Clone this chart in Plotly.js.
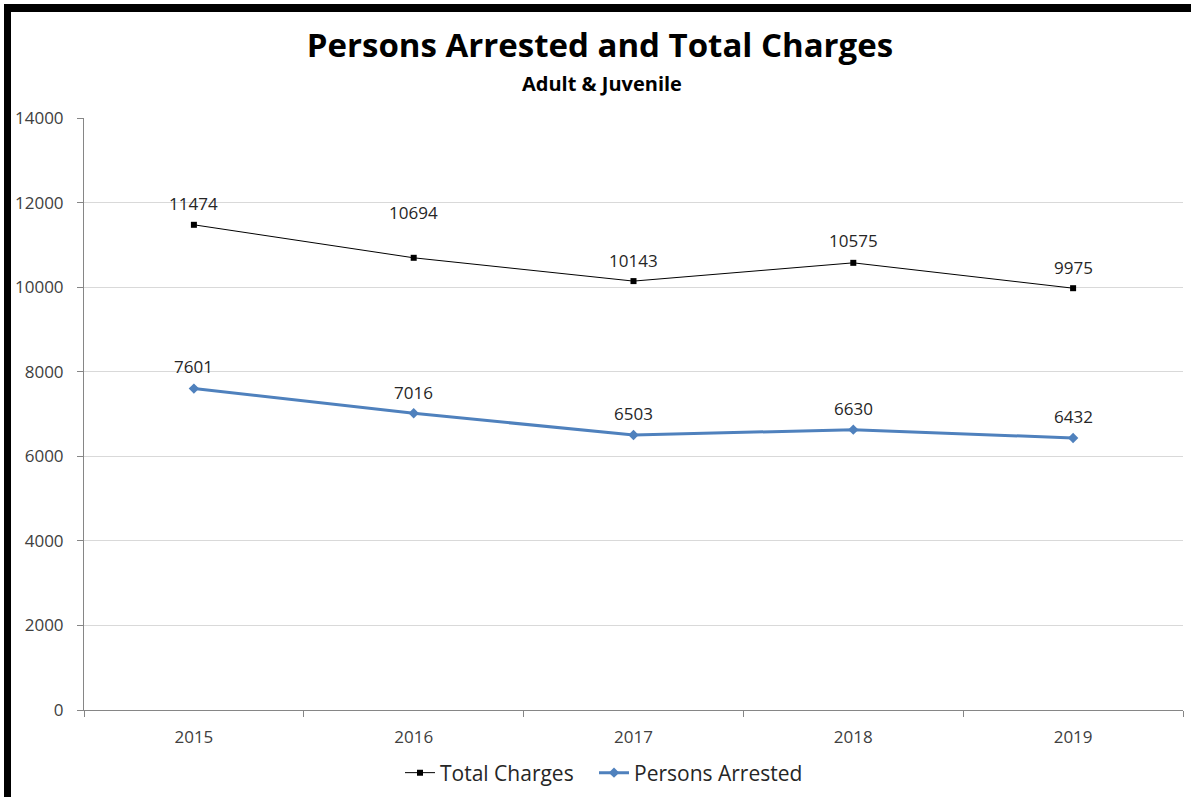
<!DOCTYPE html>
<html>
<head>
<meta charset="utf-8">
<script src="https://cdn.plot.ly/plotly-3.0.1.min.js"></script>
<style>
html,body{margin:0;padding:0;background:#fff;}
#wrap{position:relative;width:1191px;height:797px;overflow:hidden;}
#chart{position:absolute;left:0;top:0;width:1191px;height:797px;}
#bt{position:absolute;left:4px;top:4px;width:1187px;height:8px;background:#000;}
#bl{position:absolute;left:4px;top:4px;width:7px;height:793px;background:#000;}
</style>
</head>
<body>
<div id="wrap"><div id="chart"></div><div id="bt"></div><div id="bl"></div></div>
<script>
const years = ["2015", "2016", "2017", "2018", "2019"];
const totalCharges = [11474, 10694, 10143, 10575, 9975];
const personsArrested = [7601, 7016, 6503, 6630, 6432];
const chargesLabelShift = [21, 45, 21, 22, 21];
const arrestedLabelShift = [22, 21, 22, 21, 22];
const yTicks = [0, 2000, 4000, 6000, 8000, 10000, 12000, 14000];

const FONT = "Open Sans, DejaVu Sans, sans-serif";

const traces = [
  {
    x: years, y: totalCharges, name: "Total Charges", type: "scatter", mode: "lines+markers",
    line: {color: "#000000", width: 1},
    marker: {symbol: "square", size: 6, color: "#000000"},
    legend: "legend"
  },
  {
    x: years, y: personsArrested, name: "Persons Arrested", type: "scatter", mode: "lines+markers",
    line: {color: "#4F81BD", width: 3},
    marker: {symbol: "diamond", size: 8, color: "#4F81BD"},
    legend: "legend2"
  }
];

const annotations = [];
years.forEach((yr, i) => {
  annotations.push({x: i, y: totalCharges[i], xref: "x", yref: "y", text: String(totalCharges[i]),
    showarrow: false, yshift: chargesLabelShift[i], font: {family: FONT, size: 17, color: "#262626"}});
  annotations.push({x: i, y: personsArrested[i], xref: "x", yref: "y", text: String(personsArrested[i]),
    showarrow: false, yshift: arrestedLabelShift[i], font: {family: FONT, size: 17, color: "#262626"}});
});
annotations.push({x: (602 - 84) / 1099, y: (710 - 84) / 592, xref: "paper", yref: "paper", text: "<b>Adult &amp; Juvenile</b>",
  showarrow: false, xanchor: "center", yanchor: "middle", font: {family: FONT, size: 20, color: "#000"}});

const legendStyle = {orientation: "h", xanchor: "left", y: -63/592, yanchor: "middle",
  font: {family: FONT, size: 21, color: "#262626"}, itemwidth: 30, bgcolor: "rgba(0,0,0,0)"};

const layout = {
  width: 1191, height: 797,
  margin: {l: 84, r: 8, t: 118, b: 87, autoexpand: false},
  paper_bgcolor: "#ffffff", plot_bgcolor: "#ffffff",
  font: {family: FONT, size: 16, color: "#404040"},
  title: {text: "<b>Persons Arrested and Total Charges</b>", x: 600 / 1191, xanchor: "center",
    y: 1 - 45/797, yanchor: "middle", yref: "container",
    font: {family: FONT, size: 33, color: "#000"}},
  xaxis: {type: "category", range: [-0.5, years.length - 0.5], showgrid: false, showline: true, linecolor: "#868686", linewidth: 1,
    ticks: "outside", tickson: "boundaries", ticklen: 6, tickcolor: "#868686", tickangle: 0,
    ticklabelstandoff: 12, automargin: false,
    tickfont: {family: FONT, size: 17, color: "#404040"}, fixedrange: true},
  yaxis: {range: [0, 14000], tickvals: yTicks, tickformat: "d", showgrid: true, gridcolor: "#d9d9d9", gridwidth: 1,
    showline: true, linecolor: "#868686", linewidth: 1, ticks: "outside", ticklen: 6, tickcolor: "#868686",
    ticklabelstandoff: 10, automargin: false,
    zeroline: false, tickfont: {family: FONT, size: 17, color: "#404040"}, fixedrange: true},
  legend: Object.assign({}, legendStyle, {x: (400 - 84) / 1099}),
  legend2: Object.assign({}, legendStyle, {x: (594 - 84) / 1099}),
  annotations: annotations,
  showlegend: true
};

Plotly.newPlot("chart", traces, layout, {displayModeBar: false, staticPlot: true});
</script>
</body>
</html>
